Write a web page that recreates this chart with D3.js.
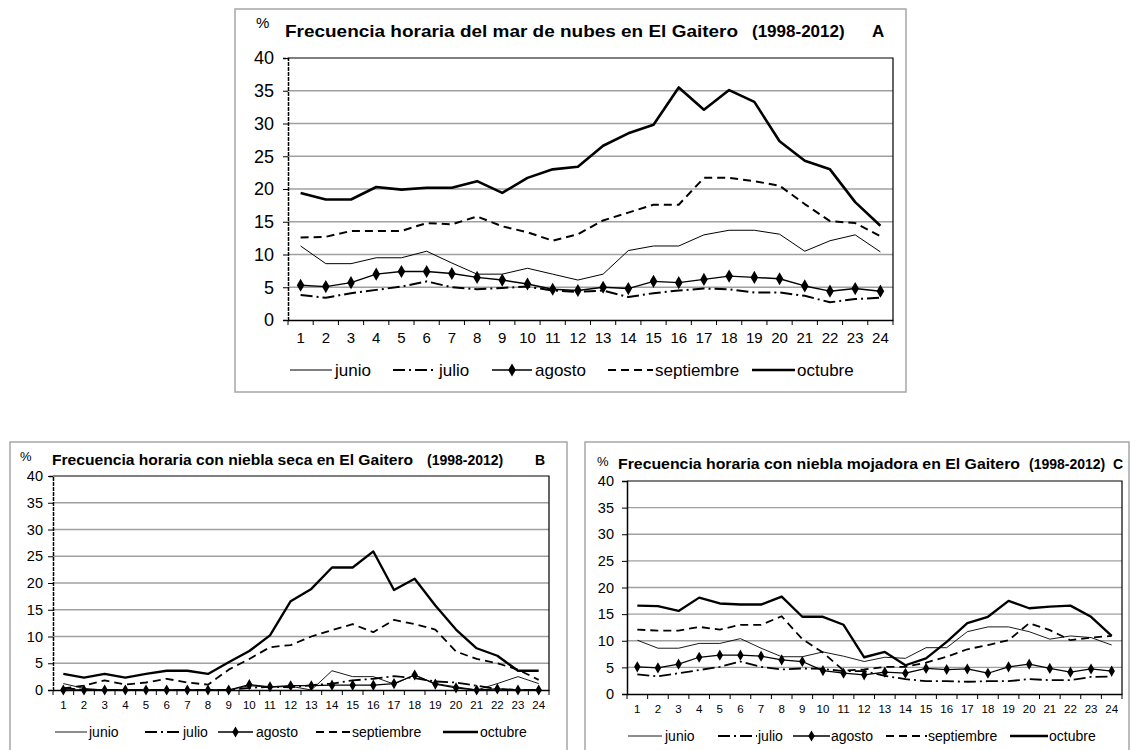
<!DOCTYPE html>
<html>
<head>
<meta charset="utf-8">
<script src="https://cdn.jsdelivr.net/npm/d3@7"></script>
<style>
  html, body { margin: 0; padding: 0; background: #fff; }
  svg { display: block; font-family: "Liberation Sans", Arial, sans-serif; }
</style>
</head>
<body>
<svg id="chart" width="1131" height="750"></svg>
<script>
// Hours of the day (x categories) and y ticks
const hours = d3.range(1, 25);
const yTicks = [0, 5, 10, 15, 20, 25, 30, 35, 40];
const months = ["junio", "julio", "agosto", "septiembre", "octubre"];

// A: sea of clouds hourly frequency (%)
const marJunio = [11.3, 8.6, 8.6, 9.5, 9.5, 10.5, 8.7, 7.0, 7.0, 7.9, 7.0, 6.1, 7.0, 10.6, 11.3, 11.3, 13.0, 13.7, 13.7, 13.1, 10.5, 12.1, 13.0, 10.4];
const marJulio = [3.8, 3.4, 4.1, 4.6, 5.1, 5.9, 5.0, 4.7, 4.9, 5.1, 4.5, 4.3, 4.5, 3.5, 4.1, 4.5, 4.8, 4.7, 4.2, 4.2, 3.7, 2.7, 3.2, 3.4];
const marAgosto = [5.3, 5.1, 5.7, 7.0, 7.4, 7.4, 7.1, 6.5, 6.1, 5.5, 4.7, 4.5, 5.0, 4.8, 5.9, 5.7, 6.2, 6.7, 6.5, 6.3, 5.2, 4.4, 4.8, 4.4];
const marSeptiembre = [12.6, 12.7, 13.6, 13.6, 13.6, 14.8, 14.6, 15.8, 14.3, 13.4, 12.1, 13.1, 15.2, 16.4, 17.6, 17.6, 21.7, 21.7, 21.2, 20.5, 17.7, 15.1, 14.8, 12.8];
const marOctubre = [19.4, 18.4, 18.4, 20.3, 19.9, 20.2, 20.2, 21.2, 19.4, 21.7, 23.0, 23.4, 26.6, 28.5, 29.8, 35.5, 32.1, 35.1, 33.3, 27.3, 24.3, 23.0, 18.0, 14.4];

// B: dry fog hourly frequency (%)
const secaJunio = [1.2, 0.3, 0, 0, 0, 0, 0, 0, 0, 0.8, 0.5, 0.7, 0, 3.6, 2.5, 2.5, 1.1, 2.8, 1.2, 0.6, 0, 1.2, 2.5, 1.2];
const secaJulio = [0.4, 0, 0, 0, 0, 0, 0, 0, 0, 0.4, 0.6, 0.5, 0.9, 1.2, 1.8, 2.1, 2.6, 2.2, 1.6, 1.4, 0.8, 0.2, 0, 0];
const secaAgosto = [0, 0, 0, 0, 0, 0, 0, 0, 0, 1.0, 0.6, 0.8, 0.8, 0.9, 0.9, 0.9, 1.2, 2.8, 1.1, 0.4, 0, 0.2, 0, 0];
const secaSeptiembre = [0.3, 0.8, 1.8, 1.0, 1.4, 2.1, 1.4, 1.0, 3.8, 5.8, 8.0, 8.4, 10.0, 11.2, 12.3, 10.8, 13.1, 12.3, 11.3, 7.2, 5.8, 5.0, 3.8, 1.9];
const secaOctubre = [3.0, 2.3, 3.0, 2.3, 3.0, 3.6, 3.6, 3.0, 5.2, 7.3, 10.2, 16.6, 18.9, 22.9, 22.9, 25.9, 18.7, 20.8, 15.8, 11.3, 7.8, 6.4, 3.6, 3.6];

// C: wetting fog hourly frequency (%)
const mojJunio = [10.1, 8.6, 8.6, 9.5, 9.5, 10.4, 8.6, 7.0, 7.0, 7.9, 7.1, 6.1, 6.9, 6.7, 8.7, 8.7, 11.7, 12.6, 12.6, 11.7, 10.3, 10.9, 10.6, 9.2];
const mojJulio = [3.7, 3.3, 3.9, 4.5, 5.1, 6.1, 5.1, 4.6, 4.8, 4.7, 4.3, 4.3, 3.4, 2.8, 2.4, 2.4, 2.3, 2.4, 2.4, 2.8, 2.6, 2.6, 3.2, 3.3];
const mojAgosto = [5.1, 4.9, 5.6, 6.9, 7.3, 7.3, 7.1, 6.4, 6.1, 4.4, 3.9, 3.6, 4.1, 3.9, 4.8, 4.6, 4.7, 3.9, 5.1, 5.6, 4.8, 4.1, 4.7, 4.3];
const mojSeptiembre = [12.1, 11.9, 11.9, 12.6, 12.1, 13.0, 13.0, 14.6, 10.3, 7.8, 4.4, 4.6, 5.1, 5.1, 5.9, 7.0, 8.4, 9.2, 10.1, 13.3, 12.0, 10.1, 10.6, 10.9];
const mojOctubre = [16.6, 16.5, 15.6, 18.1, 17.0, 16.8, 16.8, 18.3, 14.5, 14.5, 13.0, 6.9, 7.9, 5.4, 6.7, 9.8, 13.3, 14.5, 17.5, 16.1, 16.4, 16.6, 14.5, 10.9];

// Line style per month
const styles = {
  junio:      { width: 1,   dash: null,         marker: false },
  julio:      { width: 2,   dash: "12,4,2,4",   marker: false },
  agosto:     { width: 1.4, dash: null,         marker: true },
  septiembre: { width: 2,   dash: "8,5",        marker: false },
  octubre:    { width: 2.6, dash: null,         marker: false }
};

const svg = d3.select("#chart");

function drawPanel(p) {
  const g = svg.append("g");

  // outer frame
  g.append("rect")
    .attr("x", p.frame[0]).attr("y", p.frame[1])
    .attr("width", p.frame[2] - p.frame[0]).attr("height", p.frame[3] - p.frame[1])
    .attr("fill", "#fff").attr("stroke", "#a6a6a6").attr("stroke-width", 1.5);

  const x = d3.scaleBand().domain(hours).range([p.plot.left, p.plot.right]);
  const y = d3.scaleLinear().domain([0, 40]).range([p.plot.bottom, p.plot.top]);

  // horizontal gridlines
  g.append("g").selectAll("line").data(yTicks.filter(t => t > 0 && t < 40)).join("line")
    .attr("x1", p.plot.left).attr("x2", p.plot.right)
    .attr("y1", d => y(d)).attr("y2", d => y(d))
    .attr("stroke", "#a0a0a0").attr("stroke-width", 1.3);

  // plot area border (top and right)
  g.append("path")
    .attr("d", `M${p.plot.left},${y(40)}H${p.plot.right}V${p.plot.bottom}`)
    .attr("fill", "none").attr("stroke", "#000").attr("stroke-width", 1.2);

  // y axis
  const yAxis = g.append("g").attr("transform", `translate(${p.plot.left},0)`)
    .call(d3.axisLeft(y).tickValues(yTicks).tickSize(5).tickPadding(p.yPad));
  yAxis.select(".domain").attr("stroke", "#000").attr("stroke-width", 1.5)
    .attr("stroke-dasharray", p.dashedAxis ? "4,1" : null);
  yAxis.selectAll(".tick line").attr("stroke", "#000");
  yAxis.selectAll(".tick text").attr("font-size", p.yFont).attr("fill", "#000")
    .attr("font-family", "Liberation Sans, Arial, sans-serif");

  // x axis: labels centred on hours, tick marks at band edges
  const xAxis = g.append("g").attr("transform", `translate(0,${p.plot.bottom})`)
    .call(d3.axisBottom(x).tickSize(0).tickPadding(p.xPad));
  xAxis.select(".domain").attr("stroke", "#000").attr("stroke-width", 1.5);
  xAxis.selectAll(".tick text").attr("font-size", p.xFont).attr("fill", "#000")
    .attr("font-family", "Liberation Sans, Arial, sans-serif");
  xAxis.append("g").selectAll("line").data(hours.concat([25])).join("line")
    .attr("x1", d => d <= 24 ? x(d) : x(24) + x.bandwidth())
    .attr("x2", d => d <= 24 ? x(d) : x(24) + x.bandwidth())
    .attr("y1", 0).attr("y2", 5).attr("stroke", "#000");

  // series
  const cx = h => x(h) + x.bandwidth() / 2;
  const line = d3.line().x((v, i) => cx(hours[i])).y(v => y(v));
  months.forEach((m, k) => {
    const s = styles[m];
    const vals = p.series[k];
    g.append("path").datum(vals)
      .attr("d", line).attr("fill", "none").attr("stroke", "#000")
      .attr("stroke-width", s.width * p.lineScale)
      .attr("stroke-dasharray", s.dash)
      .attr("stroke-linejoin", "round");
    if (s.marker) {
      g.append("g").selectAll("path").data(vals).join("path")
        .attr("transform", (v, i) => `translate(${cx(hours[i])},${y(v)})`)
        .attr("d", d3.symbol(d3.symbolDiamond, p.markerSize));
    }
  });

  // unit and title pieces
  g.append("text").attr("x", p.unit[0]).attr("y", p.unit[1])
    .attr("font-size", p.unitFont).text("%");
  p.title.forEach(t => {
    const el = g.append("text").attr("x", t.x).attr("y", p.titleY)
      .attr("font-size", p.titleFont).attr("font-weight", "bold").text(t.text);
    if (t.len) el.attr("textLength", t.len).attr("lengthAdjust", "spacingAndGlyphs");
  });

  // legend
  months.forEach((m, k) => {
    const s = styles[m];
    const [x0, x1, tx] = p.legend[k];
    g.append("line").attr("x1", x0).attr("x2", x1)
      .attr("y1", p.legendY).attr("y2", p.legendY)
      .attr("stroke", "#000").attr("stroke-width", s.width * p.lineScale)
      .attr("stroke-dasharray", s.dash);
    if (s.marker) {
      g.append("path").attr("transform", `translate(${(x0 + x1) / 2},${p.legendY})`)
        .attr("d", d3.symbol(d3.symbolDiamond, p.markerSize));
    }
    g.append("text").attr("x", tx).attr("y", p.legendY).attr("dy", "0.35em")
      .attr("font-size", p.legendFont).text(m);
  });
}

drawPanel({
  frame: [235, 9, 906, 392],
  plot: { left: 288, right: 893, top: 58, bottom: 320 },
  series: [marJunio, marJulio, marAgosto, marSeptiembre, marOctubre],
  dashedAxis: true, yFont: 18, xFont: 15, yPad: 9, xPad: 12,
  lineScale: 1, markerSize: 50,
  unit: [256, 28], unitFont: 15,
  titleY: 37, titleFont: 17,
  title: [
    { text: "Frecuencia horaria del mar de nubes en El Gaitero", x: 285, len: 453 },
    { text: "(1998-2012)", x: 752 },
    { text: "A", x: 872 }
  ],
  legendY: 370, legendFont: 17,
  legend: [[290, 332, 335], [393, 437, 439], [492, 532, 535], [608, 653, 655], [752, 795, 797]]
});

drawPanel({
  frame: [10, 442, 567, 760],
  plot: { left: 53, right: 549, top: 476, bottom: 690 },
  series: [secaJunio, secaJulio, secaAgosto, secaSeptiembre, secaOctubre],
  dashedAxis: true, yFont: 14.5, xFont: 11.5, yPad: 5, xPad: 11,
  lineScale: 0.9, markerSize: 36,
  unit: [20, 461], unitFont: 13,
  titleY: 465, titleFont: 14,
  title: [
    { text: "Frecuencia horaria  con niebla seca en El Gaitero", x: 52, len: 361 },
    { text: "(1998-2012)", x: 427 },
    { text: "B", x: 535 }
  ],
  legendY: 732, legendFont: 14,
  legend: [[55, 87, 89], [145, 182, 183], [218, 253, 256], [316, 351, 352], [443, 478, 480]]
});

drawPanel({
  frame: [585, 442, 1129, 760],
  plot: { left: 627, right: 1122, top: 481, bottom: 694 },
  series: [mojJunio, mojJulio, mojAgosto, mojSeptiembre, mojOctubre],
  dashedAxis: false, yFont: 14.5, xFont: 11.5, yPad: 8, xPad: 11,
  lineScale: 0.9, markerSize: 36,
  unit: [597, 466], unitFont: 13,
  titleY: 469, titleFont: 14,
  title: [
    { text: "Frecuencia horaria con niebla mojadora en El Gaitero", x: 618, len: 402 },
    { text: "(1998-2012)", x: 1029 },
    { text: "C", x: 1113 }
  ],
  legendY: 736, legendFont: 14,
  legend: [[628, 662, 665], [718, 757, 758], [793, 830, 831], [886, 927, 928], [1010, 1048, 1049]]
});
</script>
</body>
</html>
